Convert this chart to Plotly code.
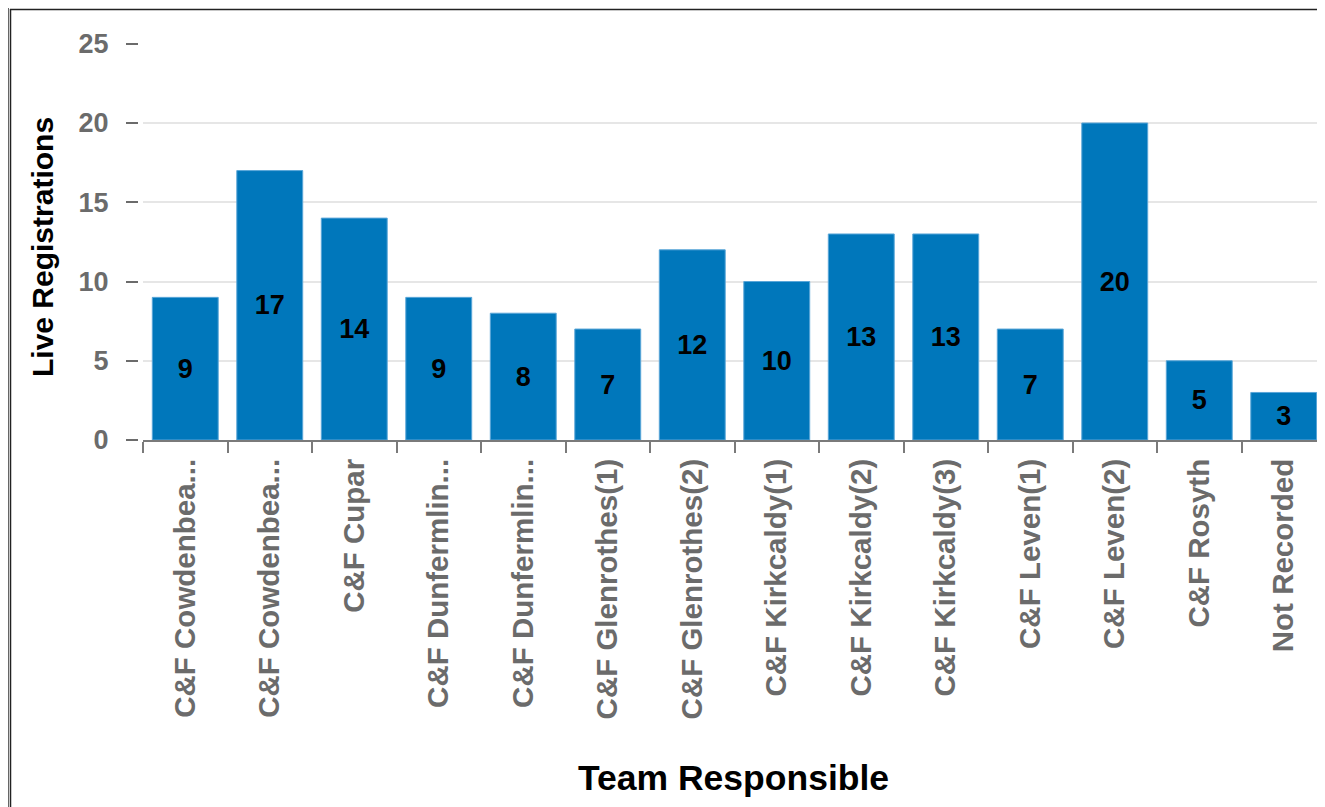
import plotly.graph_objects as go

# ---- data ----
team_labels = [
    "C&F Cowdenbea...", "C&F Cowdenbea...", "C&F Cupar", "C&F Dunfermlin...",
    "C&F Dunfermlin...", "C&F Glenrothes(1)", "C&F Glenrothes(2)", "C&F Kirkcaldy(1)",
    "C&F Kirkcaldy(2)", "C&F Kirkcaldy(3)", "C&F Leven(1)", "C&F Leven(2)",
    "C&F Rosyth", "Not Recorded",
]
live_registrations = [9, 17, 14, 9, 8, 7, 12, 10, 13, 13, 7, 20, 5, 3]
y_ticks = [0, 5, 10, 15, 20, 25]

OFF = 8  # page body margin
SW, SH = 1325, 807  # screen size
W, H = SW - OFF, SH - OFF
# screen-pixel layout targets
PLOT_LEFT, PLOT_TOP, PLOT_BOTTOM = 143, 43, 440
ML = PLOT_LEFT - OFF - 5
MT = PLOT_TOP - OFF
MB = H - (PLOT_BOTTOM - OFF)
MR = 0
PW, PH = W - ML - MR, H - MT - MB

def px_x(p):
    return (p - OFF - ML) / PW

def px_y(p):
    return (H - MB - (p - OFF)) / PH

FONT = "Liberation Sans, Arial, sans-serif"
n = len(team_labels)
xpos = list(range(n))

fig = go.Figure()
fig.add_trace(go.Bar(
    x=xpos,
    y=live_registrations,
    marker=dict(color="#0077bb", line=dict(color="#5aa6d8", width=1)),
    width=0.78,
    text=live_registrations,
    texttemplate="%{y}",
    textposition="inside",
    insidetextanchor="middle",
    textangle=0,
    constraintext="none",
    textfont=dict(family=FONT, size=27, color="black", weight="bold"),
    hoverinfo="skip",
))

cat_w = 84.5
fig.update_layout(
    width=W, height=H,
    margin=dict(l=ML, r=MR, t=MT, b=MB, autoexpand=False),
    paper_bgcolor="white", plot_bgcolor="white",
    showlegend=False,
    font=dict(family=FONT),
    xaxis=dict(
        domain=[px_x(PLOT_LEFT), 1],
        range=[-0.5, -0.5 + (SW - PLOT_LEFT) / cat_w],
        tickmode="array",
        tickvals=xpos,
        ticktext=team_labels,
        tickangle=-90,
        ticks="",
        tickfont=dict(family=FONT, size=29.5, color="#6b6b6b", weight="bold"),
        ticklabelstandoff=5,
        showgrid=False,
        zeroline=False,
        showline=True, linecolor="#7a7a7a", linewidth=2,
        minor=dict(tickmode="array", tickvals=[i - 0.5 for i in range(n + 1)],
                   ticks="outside", ticklen=11, tickwidth=2, tickcolor="#7a7a7a",
                   showgrid=False),
        fixedrange=True,
    ),
    yaxis=dict(
        anchor="free", position=0,
        range=[0, 25.05],
        tickmode="array", tickvals=y_ticks,
        ticks="outside", ticklen=12, tickwidth=2, tickcolor="#6b6b6b",
        tickfont=dict(family=FONT, size=27, color="#6b6b6b", weight="bold"),
        ticklabelstandoff=12,
        showgrid=True, gridcolor="#e6e6e6", gridwidth=2,
        zeroline=False, showline=False,
        fixedrange=True,
    ),
    annotations=[
        dict(text="Team Responsible", xref="paper", yref="paper",
             x=px_x(734), y=px_y(778), xanchor="center", yanchor="middle",
             showarrow=False, font=dict(family=FONT, size=35.5, color="black", weight="bold")),
        dict(text="Live Registrations", xref="paper", yref="paper",
             x=px_x(42), y=px_y(247), xanchor="center", yanchor="middle", textangle=-90,
             showarrow=False, font=dict(family=FONT, size=30, color="black", weight="bold")),
    ],
    shapes=[
        dict(type="line", xref="paper", yref="paper", x0=px_x(8.5), x1=px_x(8.5), y0=px_y(7), y1=px_y(SH + 5),
             line=dict(color="#666666", width=1)),
        dict(type="line", xref="paper", yref="paper", x0=px_x(10.5), x1=px_x(10.5), y0=px_y(9), y1=px_y(SH + 5),
             line=dict(color="#222222", width=1.5)),
        dict(type="line", xref="paper", yref="paper", x0=px_x(8), x1=px_x(SW + 5), y0=px_y(7.5), y1=px_y(7.5),
             line=dict(color="#666666", width=1)),
        dict(type="line", xref="paper", yref="paper", x0=px_x(10), x1=px_x(SW + 5), y0=px_y(9.5), y1=px_y(9.5),
             line=dict(color="#222222", width=1.5)),
    ],
)

fig.write_html("out.html", config={"displayModeBar": False})
